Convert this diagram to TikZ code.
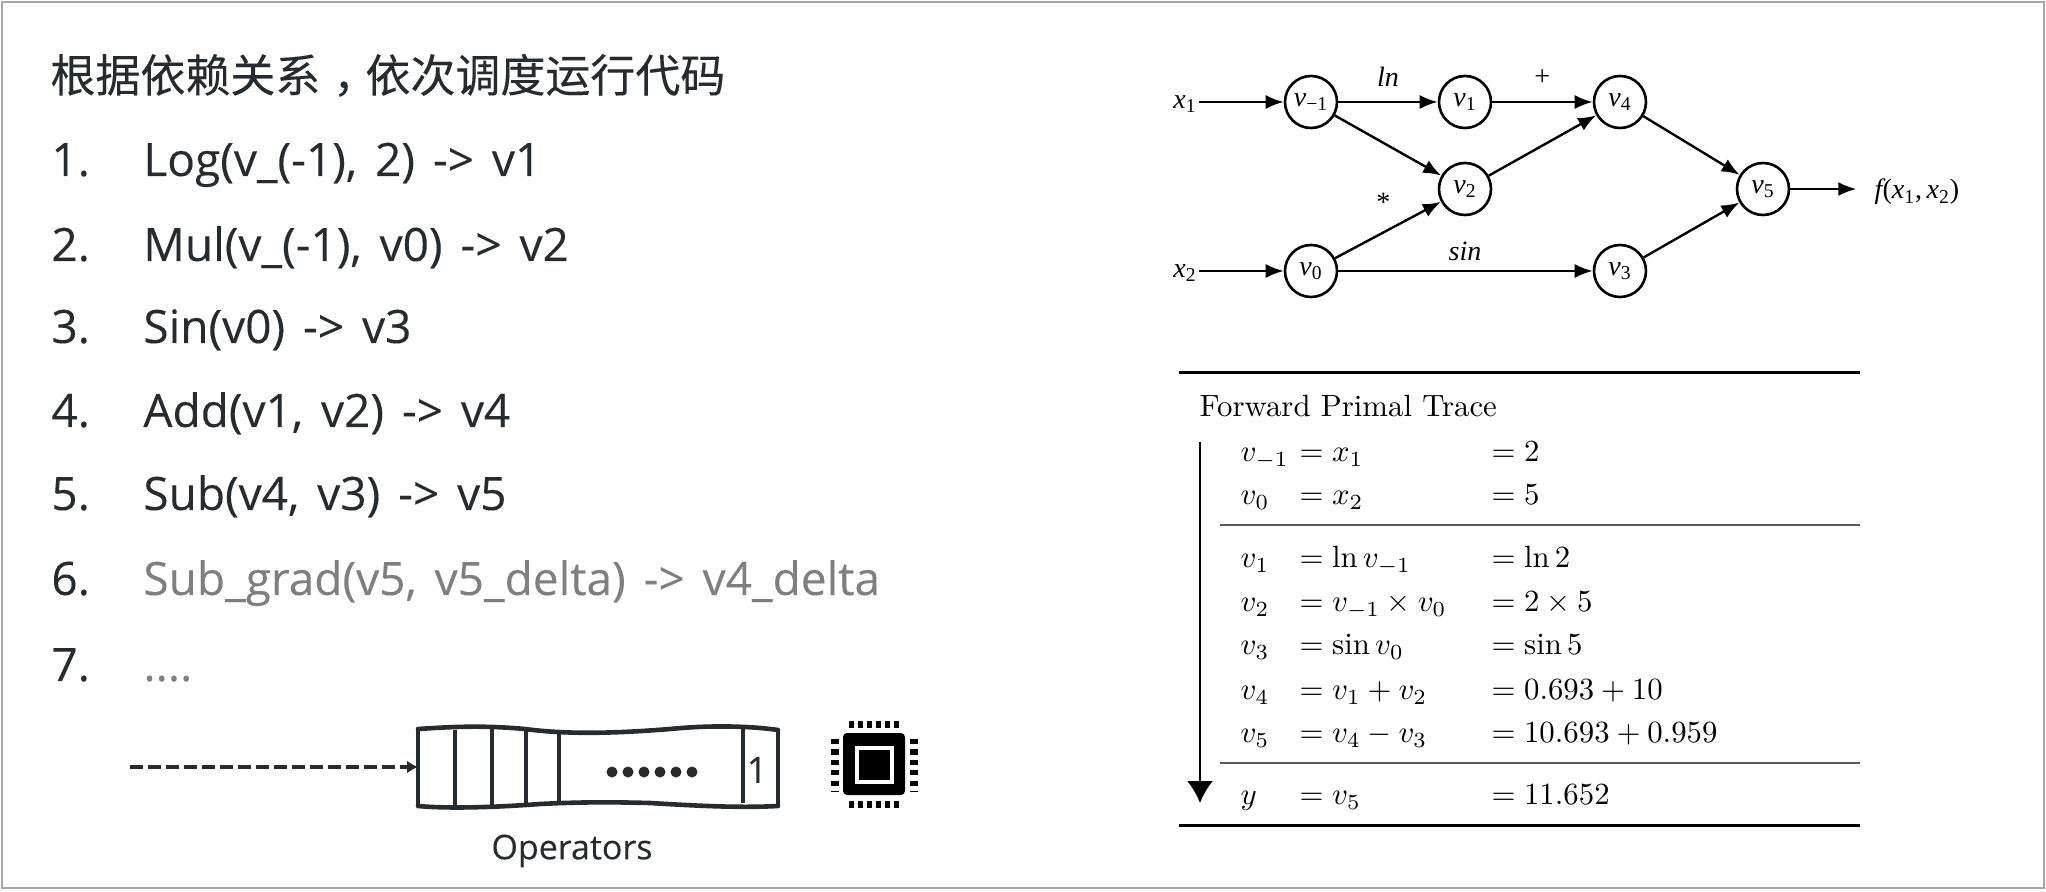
\documentclass[tikz,border=0pt]{standalone}
\usepackage{fontspec}
\usepackage{xcolor}
\usetikzlibrary{arrows.meta}
\newfontfamily\listfont[WordSpace=1.5,FakeBold=0.15]{Open Sans}
\newfontfamily\cjk[FakeBold=0.2]{Noto Sans CJK SC}
\newfontfamily\timesfont{Liberation Serif}
\definecolor{inkdark}{HTML}{262B2F}
\definecolor{inkgrey}{HTML}{7F7F7F}
\newcommand{\gv}[1]{\makebox[0pt]{{\itshape v}\textsubscript{#1}}}
\newcommand{\gx}[1]{{\itshape x}\textsubscript{#1}}
\tikzset{
  listitem/.style={anchor=base west,inner sep=0pt,text=inkdark,font=\listfont\fontsize{23}{26}\selectfont},
  greyitem/.style={listitem,text=inkgrey},
  gnode/.style={circle,draw,line width=1.3pt,minimum size=26pt,inner sep=0pt,font=\timesfont\fontsize{14}{16}\selectfont},
  glabel/.style={inner sep=1pt,font=\timesfont\fontsize{14}{16}\selectfont},
  gedge/.style={line width=1.2pt,-{Latex[length=9pt,width=7pt]}},
  cell/.style={anchor=base west,inner sep=0pt,scale=1.54},
}
\begin{document}
\begin{tikzpicture}[x=0.5pt,y=-0.5pt]
\useasboundingbox (0,0) rectangle (2046,892);
\draw[gray!70,line width=1pt] (2,2) rectangle (2044,888);
% left list
\node[anchor=base west,inner sep=0pt,text=inkdark,font=\cjk\fontsize{22.5}{26}\selectfont] (heading) at (50,92) {根据依赖关系\hbox to 1em{\hskip .28em ，\hss}依次调度运行代码};
\node[listitem] (num1) at (51,176) {1.};
\node[listitem] (num2) at (51,261) {2.};
\node[listitem] (num3) at (51,343) {3.};
\node[listitem] (num4) at (51,427) {4.};
\node[listitem] (num5) at (51,510) {5.};
\node[listitem] (num6) at (51,595) {6.};
\node[listitem] (num7) at (51,681) {7.};
\node[listitem] (op1) at (143,176) {Log(v\_(-1), 2) -> v1};
\node[listitem] (op2) at (143,261) {Mul(v\_(-1), v0) -> v2};
\node[listitem] (op3) at (143,343) {Sin(v0) -> v3};
\node[listitem] (op4) at (143,427) {Add(v1, v2) -> v4};
\node[listitem] (op5) at (143,510) {Sub(v4, v3) -> v5};
\node[greyitem] (op6) at (143,595) {Sub\_grad(v5, v5\_delta) -> v4\_delta};
\node[greyitem] (op7) at (143,681) {....};
% operator queue
\draw[line width=1.6pt,inkdark] (418,729)--(418,806) (778,730)--(778,806);
\draw[line width=2.3pt,inkdark,line cap=round] (418,729) .. controls (450,727) and (480,725) .. (525,729) .. controls (570,735) and (620,733) .. (670,729) .. controls (710,725) and (750,726) .. (778,730);
\draw[line width=2.3pt,inkdark,line cap=round] (778,806) .. controls (740,808) and (700,806) .. (650,803) .. controls (610,802) and (580,802) .. (540,804) .. controls (500,807) and (450,809) .. (418,806);
\draw[line width=1.8pt,inkdark] (455,730)--(455,807) (492,729)--(492,805) (526,729)--(526,804) (559,732)--(559,803) (743,728)--(743,803);
\draw[line width=5.5pt,inkdark,line cap=round,dash pattern=on 0pt off 8pt] (612,772)--(693,772);
\node[inner sep=0pt,text=inkdark,font=\listfont\fontsize{18}{20}\selectfont] (one) at (757,770) {1};
\coordinate (feed) at (130,767);
\coordinate (queue) at (418,767);
\draw[line width=2pt,inkdark,dash pattern=on 6.5pt off 2.5pt,-{Latex[length=5.5pt,width=6.5pt]}] (feed)--(queue);
\node[inner sep=0pt,text=inkdark,font=\listfont\fontsize{17}{20}\selectfont] (operators) at (572,851) {Operators};
% chip
\fill[black,rounded corners=2pt] (843,733) rectangle (905,795);
\draw[white,line width=1.8pt] (857,748) rectangle (892,782);
\draw[black,line width=3.5pt,dash pattern=on 2.4pt off 2.1pt] (849,724.5)--(901,724.5) (849,804.5)--(901,804.5);
\draw[black,line width=4pt,dash pattern=on 2.6pt off 2.6pt] (835,739)--(835,792) (914,739)--(914,792);
% computation graph
\node[gnode] (vm) at (1311,102) {\gv{\textminus1}};
\node[gnode] (v1) at (1465,102) {\gv{1}};
\node[gnode] (v4) at (1620,102) {\gv{4}};
\node[gnode] (v2) at (1465,189) {\gv{2}};
\node[gnode] (v5) at (1763,189) {\gv{5}};
\node[gnode] (v0) at (1311,271) {\gv{0}};
\node[gnode] (v3) at (1620,271) {\gv{3}};
\node[glabel] (x1) at (1185,104) {\gx{1}};
\node[glabel] (x2) at (1185,273) {\gx{2}};
\node[glabel] (fx) at (1917,192) {{\itshape f}(\gx{1},\,\gx{2})};
\node[glabel] (ln) at (1388,77) {\itshape ln};
\node[glabel] (plus) at (1542,78) {\itshape +};
\node[glabel] (star) at (1382,202) {\itshape *};
\node[glabel] (sin) at (1465,251) {\itshape sin};
\draw[gedge] (x1.east |- vm)--(vm);
\draw[gedge] (x2.east |- v0)--(v0);
\draw[gedge] (vm)--(v1);
\draw[gedge] (v1)--(v4);
\draw[gedge] (vm)--(v2);
\draw[gedge] (v0)--(v2);
\draw[gedge] (v2)--(v4);
\draw[gedge] (v0)--(v3);
\draw[gedge] (v4)--(v5);
\draw[gedge] (v3)--(v5);
\draw[gedge,shorten >=8pt] (v5)--(v5 -| fx.west);
% trace table
\draw[line width=1.5pt] (1179,373)--(1860,373);
\draw[line width=0.6pt,black!65] (1220,525)--(1860,525);
\draw[line width=0.6pt,black!65] (1220,763)--(1860,763);
\draw[line width=1.5pt] (1179,825)--(1860,825);
\node[cell] (title) at (1199,417) {Forward Primal Trace};
\coordinate (tracetop) at (1200,442);
\coordinate (tracebot) at (1200,803);
\draw[line width=1pt,-{Latex[length=11pt,width=13pt]}] (tracetop)--(tracebot);
\node[cell] (a1) at (1240,461.5) {$v_{-1}$};
\node[cell] (b1) at (1299,461.5) {$=x_1$};
\node[cell] (c1) at (1491,461.5) {$=2$};
\node[cell] (a2) at (1240,504.5) {$v_0$};
\node[cell] (b2) at (1299,504.5) {$=x_2$};
\node[cell] (c2) at (1491,504.5) {$=5$};
\node[cell] (a3) at (1240,567.5) {$v_1$};
\node[cell] (b3) at (1299,567.5) {$=\ln v_{-1}$};
\node[cell] (c3) at (1491,567.5) {$=\ln 2$};
\node[cell] (a4) at (1240,611.5) {$v_2$};
\node[cell] (b4) at (1299,611.5) {$=v_{-1}\times v_0$};
\node[cell] (c4) at (1491,611.5) {$=2\times 5$};
\node[cell] (a5) at (1240,654.5) {$v_3$};
\node[cell] (b5) at (1299,654.5) {$=\sin v_0$};
\node[cell] (c5) at (1491,654.5) {$=\sin 5$};
\node[cell] (a6) at (1240,699.5) {$v_4$};
\node[cell] (b6) at (1299,699.5) {$=v_1+v_2$};
\node[cell] (c6) at (1491,699.5) {$=0.693+10$};
\node[cell] (a7) at (1240,742.5) {$v_5$};
\node[cell] (b7) at (1299,742.5) {$=v_4-v_3$};
\node[cell] (c7) at (1491,742.5) {$=10.693+0.959$};
\node[cell] (a8) at (1240,804.5) {$y$};
\node[cell] (b8) at (1299,804.5) {$=v_5$};
\node[cell] (c8) at (1491,804.5) {$=11.652$};
\end{tikzpicture}
\end{document}
